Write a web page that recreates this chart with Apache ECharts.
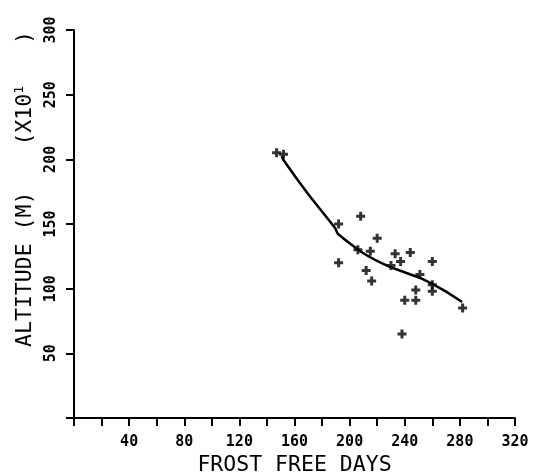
<!DOCTYPE html>
<html>
<head>
<meta charset="utf-8">
<script src="https://cdn.jsdelivr.net/npm/echarts@6/dist/echarts.min.js"></script>
<style>
  html, body { margin: 0; padding: 0; background: #fff; }
  #chart { width: 536px; height: 472px; }
</style>
</head>
<body>
<div id="chart"></div>
<script>
// observed points: frost free days vs altitude (m, x10)
const frostDays = [147, 152, 192, 208, 220, 206, 215, 233, 244, 260, 192, 230, 237, 212, 216, 251, 260, 260, 248, 248, 240, 282, 238]
const altitude  = [205, 204, 150, 156, 139, 130, 129, 127, 128, 121, 120, 118, 121, 114, 106, 111, 103, 98, 99, 91, 91, 85, 65]

// fitted curve
const fitDays = [150.7, 152, 170, 189.4, 191.6, 209.7, 229.3, 251, 267.8, 281.6]
const fitAlt  = [202.6, 199.5, 173, 146.9, 142.3, 127.6, 116.8, 108.3, 99, 89.7]

const xTicks = { min: 0, max: 320, step: 20, labelStep: 40 }
const yTicks = { min: 0, max: 300, step: 50 }

// plotter lettering is monospaced
const FONT = 'DejaVu Sans Mono'
const plus = 'path://M3,0h3v3h3v3h-3v3h-3v-3h-3v-3h3z'

const chart = echarts.init(document.getElementById('chart'))

const axisCommon = {
  axisLine: { show: true, lineStyle: { color: '#000', width: 2 } },
  axisTick: { show: true, inside: false, length: 8, lineStyle: { color: '#000', width: 2 } },
  splitLine: { show: false },
}

chart.setOption({
  animation: false,
  backgroundColor: '#fff',
  grid: { left: 74, right: 21, top: 30, bottom: 54, outerBoundsMode: 'none' },
  xAxis: {
    type: 'value',
    min: xTicks.min,
    max: xTicks.max,
    interval: xTicks.step,
    ...axisCommon,
    axisLabel: {
      margin: 17,
      color: '#000',
      fontFamily: FONT,
      fontWeight: 'bold',
      fontSize: 15,
      formatter: v => (v > 0 && v % xTicks.labelStep === 0 ? String(v) : ''),
    },
    name: 'FROST FREE DAYS',
    nameLocation: 'middle',
    nameGap: 33,
    nameTextStyle: { color: '#000', fontFamily: FONT, fontSize: 21.5 },
  },
  yAxis: {
    type: 'value',
    min: yTicks.min,
    max: yTicks.max,
    interval: yTicks.step,
    ...axisCommon,
    axisLabel: {
      margin: 15,
      rotate: 90,
      color: '#000',
      fontFamily: FONT,
      fontWeight: 'bold',
      fontSize: 15,
      formatter: v => (v > 0 ? String(v) : ''),
    },
    name: 'ALTITUDE (M){g1| }(X10{sup|1}{g2| })',
    nameLocation: 'middle',
    nameRotate: 90,
    nameGap: 29,
    nameTextStyle: {
      color: '#000',
      fontFamily: FONT,
      fontSize: 21.5,
      padding: [0, 0, 0, 70],
      rich: {
        g1: { width: 46 },
        g2: { width: 42 },
        sup: { fontFamily: FONT, fontSize: 13, color: '#000', padding: [0, 0, 10, 0] },
      },
    },
  },
  series: [
    {
      type: 'line',
      data: fitDays.map((d, i) => [d, fitAlt[i]]),
      showSymbol: false,
      smooth: 0.2,
      lineStyle: { color: '#000', width: 2.5 },
      z: 2,
    },
    {
      type: 'scatter',
      data: frostDays.map((d, i) => [d, altitude[i]]),
      symbol: plus,
      symbolSize: 9,
      itemStyle: { color: '#000' },
      z: 3,
    },
  ],
})
</script>
</body>
</html>
